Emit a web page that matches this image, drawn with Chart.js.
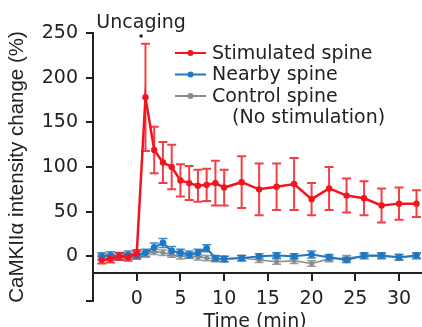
<!DOCTYPE html>
<html><head><meta charset="utf-8">
<script src="https://cdn.jsdelivr.net/npm/chart.js@4/dist/chart.umd.min.js"></script>
<style>html,body{margin:0;padding:0;overflow:hidden;background:#fff}#wrap{width:438px;height:327px;position:relative}</style>
</head><body><div id="wrap"><canvas id="c" width="438" height="327"></canvas></div>
<script>
// ---- data ----
const times = [-4,-3,-2,-1,0,1,2,3,4,5,6,7,8,9,10,12,14,16,18,20,22,24,26,28,30,32];
const stimulated    = [-4,-3,0,-1,3,178,119,105,100,85,82,79,80,82,77,83,75,78,81,64,76,68,65,57,59,59];
const stimulatedErr = [4,4,4,4,4,60,26,23,25,18,19,18,18,25,20,29,29,26,29,18,24,19,19,19,18,15];
const nearby        = [0,1,0,2,1,4,10,15,6,4,2,4,9,-2,-3,-2,0,1,0,2,-1,-4,1,1,-1,1];
const nearbyErr     = [4,4,4,4,4,4,5,5,5,4,4,4,4,3,3,3,3,3,3,4,3,3,3,3,3,3];
const control       = [0,-1,1,0,0,2,5,4,2,0,1,-1,-2,-3,-3,-2,-4,-6,-5,-8,-3,-2,0,0,-1,0];
const controlErr    = [3,3,3,3,3,3,3,3,3,3,3,3,3,3,3,3,3,3,3,3,3,3,3,3,3,3];
const xTicks = [0,5,10,15,20,25,30];
const yTicks = [-50,0,50,100,150,200,250];
const seriesNames = ['Stimulated spine','Nearby spine','Control spine'];
const legendNote = '(No stimulation)';
const annotationText = 'Uncaging';
const uncagingTime = 0.5;
const xTitle = 'Time (min)';
const yTitle = 'CaMKIIα intensity change (%)';

const FAM = "'DejaVu Sans', sans-serif";
const FAM_Y = "'Liberation Sans', Arial, Helvetica, sans-serif";
const TXT = '#222';
const colors = ['#f4141f', '#1f78c4', '#8a8a8a'];
const errColors = ['rgba(242,28,36,0.85)', 'rgba(31,120,196,0.85)', 'rgba(138,138,138,0.85)'];
const errWidths = [2, 1.5, 1.5];
const errs = [stimulatedErr, nearbyErr, controlErr];

function mk(label, vals, i, r, w) {
  return {label, data: times.map((t, k) => ({x: t, y: vals[k]})), borderColor: colors[i], backgroundColor: colors[i],
    borderWidth: w, pointRadius: r, pointBorderWidth: 0, tension: 0};
}

const errPlugin = {
  id: 'errbars',
  beforeDatasetsDraw(chart) {
    const {ctx, scales: {x, y}} = chart;
    ctx.save();
    for (let d = chart.data.datasets.length - 1; d >= 0; d--) {
      const ds = chart.data.datasets[d];
      ctx.strokeStyle = errColors[d];
      ctx.lineWidth = errWidths[d];
      ds.data.forEach((p, k) => {
        const e = errs[d][k];
        const px = x.getPixelForValue(p.x);
        const t = y.getPixelForValue(p.y + e), b = y.getPixelForValue(p.y - e);
        ctx.beginPath();
        ctx.moveTo(px, t); ctx.lineTo(px, b);
        ctx.moveTo(px - 4.5, t); ctx.lineTo(px + 4.5, t);
        ctx.moveTo(px - 4.5, b); ctx.lineTo(px + 4.5, b);
        ctx.stroke();
      });
    }
    ctx.restore();
  }
};

const annoPlugin = {
  id: 'anno',
  afterDraw(chart) {
    const {ctx, scales: {x, y}} = chart;
    ctx.save();
    ctx.font = '19px ' + FAM;
    ctx.fillStyle = TXT;
    const ux = x.getPixelForValue(uncagingTime);
    ctx.textAlign = 'center'; ctx.textBaseline = 'alphabetic';
    ctx.fillText(annotationText, ux, 28);
    ctx.beginPath(); ctx.arc(ux, 36, 1.8, 0, Math.PI * 2); ctx.fill();
    ctx.fillText(xTitle, 255, 327);
    ctx.textAlign = 'left'; ctx.textBaseline = 'middle';
    chart.data.datasets.forEach((ds, i) => {
      const ly = 53 + i * 21.5;
      ctx.strokeStyle = colors[i]; ctx.lineWidth = 2;
      ctx.beginPath(); ctx.moveTo(175, ly); ctx.lineTo(206, ly); ctx.stroke();
      ctx.fillStyle = colors[i];
      ctx.beginPath(); ctx.arc(190.5, ly, 3, 0, Math.PI * 2); ctx.fill();
      ctx.fillStyle = TXT;
      ctx.fillText(ds.label, 212, ly + 1);
    });
    ctx.fillText(legendNote, 232, 53 + 3 * 21.5 + 1);
    ctx.restore();
  }
};

const axisCommon = {
  grid: {display: true, drawOnChartArea: false, drawTicks: true, tickLength: 7, color: TXT, lineWidth: 2},
  border: {display: true, color: TXT, width: 2},
};

new Chart(document.getElementById('c'), {
  type: 'line',
  data: {datasets: [
    mk(seriesNames[0], stimulated, 0, 3.2, 2.5),
    mk(seriesNames[1], nearby, 1, 3.4, 2),
    mk(seriesNames[2], control, 2, 2.5, 1.5)
  ]},
  options: {
    responsive: false, animation: false,
    layout: {padding: {left: 0, top: 33, right: 1, bottom: 26}},
    plugins: {legend: {display: false}, tooltip: {enabled: false}},
    scales: {
      x: Object.assign({}, axisCommon, {
        type: 'linear', min: -5, max: 34, position: {y: -19},
        afterBuildTicks: s => { s.ticks = xTicks.map(v => ({value: v})); },
        ticks: {font: {size: 19, family: FAM}, color: TXT, padding: 7, maxRotation: 0, autoSkip: false},
      }),
      y: Object.assign({}, axisCommon, {
        type: 'linear', min: -50, max: 250,
        afterBuildTicks: s => { s.ticks = yTicks.map(v => ({value: v})); },
        afterFit: s => { s.width = 93; },
        ticks: {font: {size: 19, family: FAM}, color: TXT, padding: 8, callback: v => v === -50 ? '' : String(v)},
        title: {display: true, text: yTitle, color: TXT, font: {size: 20.5, family: FAM_Y}, padding: {top: 5, bottom: 0}}
      })
    }
  },
  plugins: [errPlugin, annoPlugin]
});
</script>
</body></html>
